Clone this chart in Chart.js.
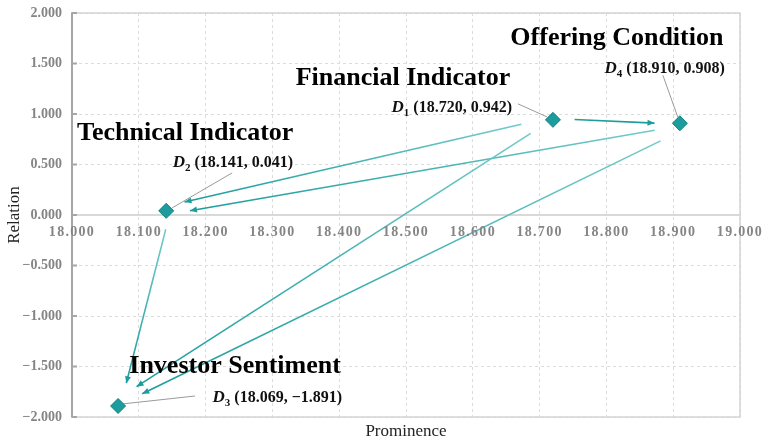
<!DOCTYPE html>
<html>
<head>
<meta charset="utf-8">
<script src="https://cdn.jsdelivr.net/npm/chart.js@4.4.1/dist/chart.umd.min.js"></script>
<style>
  html, body { margin: 0; padding: 0; background: #fff; }
  #wrap { width: 762px; height: 441px; }
</style>
</head>
<body>
<div id="wrap"><canvas id="chart" width="762" height="441"></canvas></div>
<script>
'use strict';
// factors D1..D4
const factorNames = ['Financial Indicator', 'Technical Indicator', 'Investor Sentiment', 'Offering Condition'];
const factorIds = ['1', '2', '3', '4'];
const prominence = [18.720, 18.141, 18.069, 18.910];
const relation = [0.942, 0.041, -1.891, 0.908];

// influence links (indexes into the factors)
const arrowFrom = [0, 0, 3, 0, 3, 1];
const arrowTo = [3, 1, 1, 2, 2, 2];

const xMin = 18, xMax = 19, xStep = 0.1;
const yMin = -2, yMax = 2, yStep = 0.5;
const xTitle = 'Prominence';
const yTitle = 'Relation';

// ---- styling ----
const TEAL = '#1c9c9c';
const TEAL_LIGHT = '#72caca';
const SERIF = '"Liberation Serif", "Times New Roman", serif';

// label placement in px relative to the point
const labelPos = [
    { name: [-150, -42], coord: [-41, -14], lead: [[-35, -16], [-6, -3]] },
    { name: [19, -78], coord: [127, -50], lead: [[66, -38], [6, -3]] },
    { name: [117, -40], coord: [224, -10], lead: [[77, -10], [4, -2]] },
    { name: [-63, -85], coord: [45, -56], lead: [[-17, -48], [-2, -6]] }
];
// where each arrow starts/ends along its link and how far it is pushed sideways
const arrowShape = [
    { t0: 0.17, t1: 0.80, o0: -1, o1: 0.5, light: false },
    { t0: 0.08, t1: 0.95, o0: 3, o1: 4.4, light: true },
    { t0: 0.05, t1: 0.955, o0: -2.7, o1: -3.9, light: true },
    { t0: 0.05, t1: 0.95, o0: 1, o1: 6, light: true },
    { t0: 0.04, t1: 0.957, o0: -7, o1: 0, light: true },
    { t0: 0.09, t1: 0.88, o0: -4, o1: -2.5, light: true }
];

const fmt = v => (v < 0 ? '\u2212' : '') + Math.abs(v).toFixed(3);

function drawCoord(ctx, i, rx, cy) {
    const sub = factorIds[i];
    const rest = ' (' + prominence[i].toFixed(3) + ', ' + fmt(relation[i]) + ')';
    const fD = 'italic bold 17px ' + SERIF, fSub = 'bold 11px ' + SERIF, fRest = 'bold 16px ' + SERIF;
    ctx.font = fD; const wD = ctx.measureText('D').width;
    ctx.font = fSub; const wS = ctx.measureText(sub).width;
    ctx.font = fRest; const wR = ctx.measureText(rest).width;
    let x = rx - (wD + wS + wR);
    const base = cy + 6;
    ctx.textAlign = 'left';
    ctx.textBaseline = 'alphabetic';
    ctx.fillStyle = '#111';
    ctx.font = fD; ctx.fillText('D', x, base); x += wD;
    ctx.font = fSub; ctx.fillText(sub, x, base + 4); x += wS;
    ctx.font = fRest; ctx.fillText(rest, x, base);
}

const mapPlugin = {
    id: 'map',
    beforeDatasetsDraw(chart) {
        const { ctx, chartArea: a, scales: { x, y } } = chart;
        ctx.save();
        // frame
        ctx.strokeStyle = '#d4d4d4';
        ctx.lineWidth = 1.5;
        ctx.strokeRect(a.left, a.top, a.right - a.left, a.bottom - a.top);
        // left axis with inward ticks
        ctx.strokeStyle = '#a6a6a6';
        ctx.lineWidth = 2;
        ctx.beginPath();
        ctx.moveTo(a.left, a.top);
        ctx.lineTo(a.left, a.bottom);
        y.ticks.forEach(t => {
            const py = y.getPixelForValue(t.value);
            ctx.moveTo(a.left, py);
            ctx.lineTo(a.left + 5, py);
        });
        ctx.stroke();

        // arrows
        arrowFrom.forEach((f, k) => {
            const s = arrowShape[k];
            const ax = x.getPixelForValue(prominence[f]), ay = y.getPixelForValue(relation[f]);
            const bx = x.getPixelForValue(prominence[arrowTo[k]]), by = y.getPixelForValue(relation[arrowTo[k]]);
            const len = Math.hypot(bx - ax, by - ay);
            const ux = (bx - ax) / len, uy = (by - ay) / len;
            const nx = -uy, ny = ux;
            const sx = ax + ux * len * s.t0 + nx * s.o0, sy = ay + uy * len * s.t0 + ny * s.o0;
            const ex = ax + ux * len * s.t1 + nx * s.o1, ey = ay + uy * len * s.t1 + ny * s.o1;
            const g = ctx.createLinearGradient(sx, sy, ex, ey);
            g.addColorStop(0, s.light ? TEAL_LIGHT : TEAL);
            g.addColorStop(1, TEAL);
            ctx.strokeStyle = g;
            ctx.lineWidth = 1.6;
            ctx.beginPath();
            ctx.moveTo(sx, sy);
            ctx.lineTo(ex, ey);
            ctx.stroke();
            const dl = Math.hypot(ex - sx, ey - sy);
            const vx = (ex - sx) / dl, vy = (ey - sy) / dl;
            ctx.fillStyle = TEAL;
            ctx.beginPath();
            ctx.moveTo(ex, ey);
            ctx.lineTo(ex - vx * 7 - vy * 3, ey - vy * 7 + vx * 3);
            ctx.lineTo(ex - vx * 7 + vy * 3, ey - vy * 7 - vx * 3);
            ctx.closePath();
            ctx.fill();
        });

        // leader lines
        ctx.strokeStyle = '#9a9a9a';
        ctx.lineWidth = 1;
        prominence.forEach((p, i) => {
            const px = x.getPixelForValue(p), py = y.getPixelForValue(relation[i]);
            const l = labelPos[i].lead;
            ctx.beginPath();
            ctx.moveTo(px + l[0][0], py + l[0][1]);
            ctx.lineTo(px + l[1][0], py + l[1][1]);
            ctx.stroke();
        });
        ctx.restore();
    },
    afterDatasetsDraw(chart) {
        const { ctx, scales: { x, y } } = chart;
        ctx.save();
        prominence.forEach((p, i) => {
            const px = x.getPixelForValue(p), py = y.getPixelForValue(relation[i]);
            const lp = labelPos[i];
            ctx.font = 'bold 26px ' + SERIF;
            ctx.fillStyle = '#000';
            ctx.textAlign = 'center';
            ctx.textBaseline = 'middle';
            ctx.fillText(factorNames[i], px + lp.name[0], py + lp.name[1]);
            drawCoord(ctx, i, px + lp.coord[0], py + lp.coord[1]);
        });
        ctx.restore();
        // x tick labels are drawn after this (ticks.z = 1) and are a bit spaced out
        ctx.letterSpacing = '1.3px';
    },
    afterDraw(chart) {
        const { ctx, chartArea: a } = chart;
        ctx.letterSpacing = '0px';
        ctx.save();
        ctx.fillStyle = '#222';
        ctx.font = '17px ' + SERIF;
        ctx.textAlign = 'center';
        ctx.textBaseline = 'middle';
        ctx.fillText(xTitle, (a.left + a.right) / 2, a.bottom + 15);
        ctx.translate(15, (a.top + a.bottom) / 2);
        ctx.rotate(-Math.PI / 2);
        ctx.fillText(yTitle, 0, 0);
        ctx.restore();
    }
};

const tickFont = { family: SERIF, size: 14, weight: 'bold' };

new Chart(document.getElementById('chart'), {
    type: 'scatter',
    data: {
        datasets: [{
            data: prominence.map((p, i) => ({ x: p, y: relation[i] })),
            pointStyle: 'rectRot',
            pointRadius: 7.5,
            backgroundColor: TEAL,
            borderColor: '#137f80',
            borderWidth: 1
        }]
    },
    options: {
        responsive: false,
        animation: false,
        devicePixelRatio: 1,
        events: [],
        layout: { padding: { top: 13, right: 22, bottom: 24, left: 0 } },
        plugins: { legend: { display: false }, tooltip: { enabled: false } },
        scales: {
            x: {
                type: 'linear',
                position: { y: 0 },
                min: xMin,
                max: xMax,
                ticks: { stepSize: xStep, callback: v => v.toFixed(3), color: '#858585', font: tickFont, padding: 9, maxRotation: 0, autoSkip: false, z: 1 },
                grid: { color: '#dcdcdc', drawTicks: false },
                border: { color: '#d9d9d9', width: 2, dash: [3, 3] },
                afterFit: s => { s.paddingLeft = 0; s.paddingRight = 0; }
            },
            y: {
                type: 'linear',
                min: yMin,
                max: yMax,
                ticks: { stepSize: yStep, callback: v => fmt(v), color: '#858585', font: tickFont, padding: 10 },
                grid: { color: '#dcdcdc', drawTicks: false },
                border: { color: '#a6a6a6', width: 2, dash: [3, 3] },
                afterFit: s => { s.width = 72; s.paddingTop = 0; s.paddingBottom = 0; }
            }
        }
    },
    plugins: [mapPlugin]
});
</script>
</body>
</html>
